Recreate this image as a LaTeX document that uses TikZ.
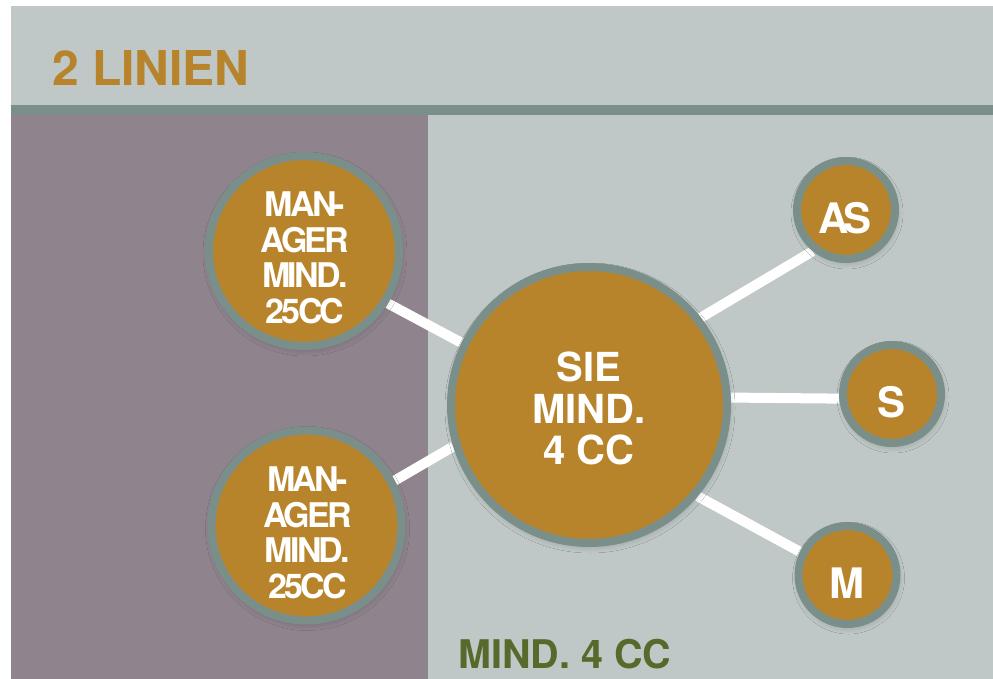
\documentclass[tikz,border=0pt]{standalone}
\usepackage{fontspec}
\setmainfont{TeX Gyre Heros}
\usetikzlibrary{shadows.blur}
\definecolor{bglight}{HTML}{BFC8C6}
\definecolor{band}{HTML}{7B8F8A}
\definecolor{panel}{HTML}{8F838D}
\definecolor{gold}{HTML}{B8842B}
\definecolor{olive}{HTML}{566A2C}
\pgfdeclarelayer{bg}
\pgfsetlayers{bg,main}
\begin{document}
\begin{tikzpicture}[x=1pt,y=-1pt,
  ball/.style={circle, draw=band, line width=8pt, fill=gold, inner sep=0pt,
    blur shadow={shadow xshift=1pt, shadow yshift=-3pt, shadow blur radius=7pt, shadow blur steps=12, shadow opacity=22}},
  bigball/.style={ball, minimum size=276pt},
  midball/.style={ball, minimum size=190pt},
  smallball/.style={ball, minimum size=98pt},
  bigtext/.style={text=white, align=center, inner sep=0pt, font=\fontsize{40}{41.5}\selectfont\bfseries},
  midtext/.style={text=white, align=center, inner sep=0pt, font=\fontsize{34}{35.5}\selectfont\bfseries\addfontfeatures{LetterSpace=-8}},
  smalltext/.style={text=white, inner sep=0pt, font=\fontsize{42}{42}\selectfont\bfseries\addfontfeatures{LetterSpace=-12}},
  link/.style={draw=white, line width=10pt}
]
\useasboundingbox (0,0) rectangle (993,679);

% circles
\node[midball] (m1) at (304,251) {};
\node[midball] (m2) at (306.5,525.5) {};
\node[bigball] (sie) at (589,405) {};
\node[smallball] (as) at (846,210) {};
\node[smallball] (s) at (892,394) {};
\node[smallball] (m) at (847.5,575) {};

% texts
\node[midtext] (m1t) at (305,258) {MAN-\\AGER\\MIND.\\25CC};
\node[midtext] (m2t) at (307.5,533) {MAN-\\AGER\\MIND.\\25CC};
\node[bigtext] (siet) at (589,408.5) {SIE\\MIND.\\4 CC};
\node[smalltext] (ast) at (845,218) {AS};
\node[smalltext] (st) at (891,402) {S};
\node[smalltext] (mt) at (847,583) {M};

\node[anchor=base west, inner sep=0pt, text=gold, font=\fontsize{48}{48}\selectfont\bfseries] (title) at (52,86) {2 LINIEN};
\node[anchor=base west, inner sep=0pt, text=olive, font=\fontsize{39.5}{39.5}\selectfont\bfseries] (foot) at (458,668) {MIND. 4 CC};

\begin{pgfonlayer}{bg}
  \fill[white] (0,0) rectangle (993,679);
  \fill[bglight] (11,6) rectangle (993,679);
  \fill[band] (11,105) rectangle (993,115);
  \fill[panel] (11,115) rectangle (428,679);
  \draw[link] (m1.-32) -- (sie.154);
  \draw[link] (m2.27) -- (sie.197);
  \draw[link] (sie.38) -- (as.231);
  \draw[link] (sie.3) -- (s.185);
  \draw[link] (sie.-40) -- (m.154);
\end{pgfonlayer}
\end{tikzpicture}
\end{document}
